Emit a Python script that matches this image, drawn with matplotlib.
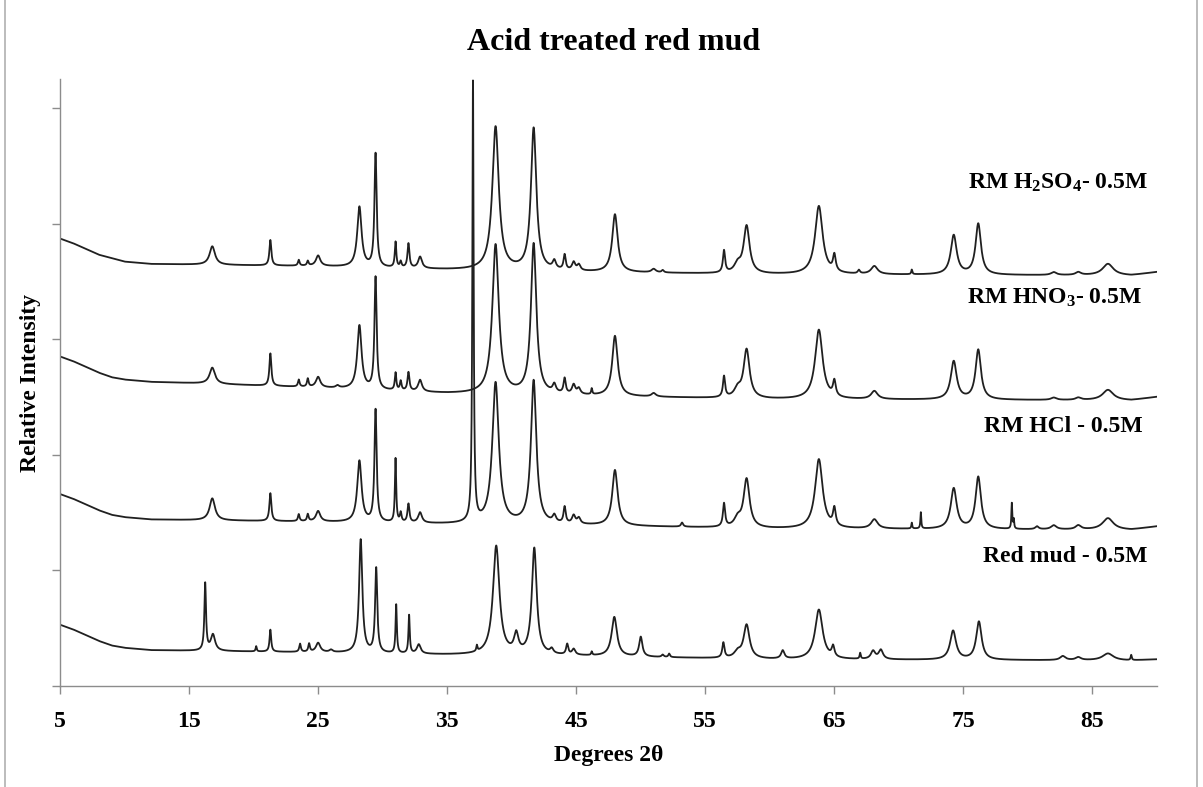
import numpy as np
import matplotlib
matplotlib.use("Agg")
import matplotlib.pyplot as plt

plt.rcParams["font.family"] = ["Liberation Serif", "DejaVu Serif"]
plt.rcParams["font.weight"] = "bold"
plt.rcParams["mathtext.fontset"] = "custom"
plt.rcParams["mathtext.rm"] = "Liberation Serif:bold"
plt.rcParams["mathtext.it"] = "Liberation Serif:bold"
plt.rcParams["mathtext.bf"] = "Liberation Serif:bold"

# series names (top to bottom)
labels = ["RM H$_2$SO$_4$- 0.5M", "RM HNO$_3$- 0.5M", "RM HCl - 0.5M", "Red mud - 0.5M"]

# baseline knots (degrees 2theta, intensity units)
base_x = [5, 6, 7, 8, 9, 10, 11, 12, 15, 25, 35, 45, 60, 88, 90]
base_h2so4 = [3.87, 3.83, 3.78, 3.73, 3.70, 3.67, 3.66, 3.65, 3.645, 3.63, 3.60, 3.58, 3.56, 3.55, 3.58]
base_hno3 = [2.85, 2.81, 2.76, 2.71, 2.67, 2.65, 2.64, 2.63, 2.62, 2.58, 2.53, 2.51, 2.48, 2.47, 2.50]
base_hcl = [1.66, 1.62, 1.57, 1.52, 1.48, 1.46, 1.45, 1.44, 1.435, 1.42, 1.40, 1.39, 1.36, 1.35, 1.38]
base_rm = [0.53, 0.49, 0.44, 0.39, 0.35, 0.33, 0.32, 0.31, 0.305, 0.29, 0.27, 0.26, 0.23, 0.22, 0.23]

# peaks: (position, height, fwhm)
peaks_h2so4 = [
    (16.8, 0.16, 0.5), (21.3, 0.22, 0.18), (23.5, 0.05, 0.15), (24.2, 0.04, 0.15),
    (25.0, 0.09, 0.4), (28.2, 0.52, 0.4), (29.45, 0.98, 0.2), (31.0, 0.22, 0.14),
    (31.4, 0.05, 0.15), (32.0, 0.21, 0.18), (32.9, 0.10, 0.35), (38.75, 1.24, 0.6),
    (41.7, 1.23, 0.5), (43.3, 0.07, 0.3), (44.1, 0.13, 0.2), (44.8, 0.07, 0.3),
    (45.2, 0.05, 0.3), (48.0, 0.50, 0.5), (51.0, 0.03, 0.4), (51.7, 0.02, 0.2),
    (56.45, 0.19, 0.2), (57.5, 0.07, 0.6), (58.2, 0.41, 0.55), (63.8, 0.59, 0.7),
    (65.0, 0.14, 0.25), (66.9, 0.03, 0.2), (68.1, 0.07, 0.6), (71.0, 0.04, 0.1),
    (74.25, 0.34, 0.55), (76.15, 0.44, 0.5), (82.0, 0.025, 0.5), (83.9, 0.025, 0.5),
    (86.2, 0.10, 1.0),
]
peaks_hno3 = [
    (16.8, 0.14, 0.5), (21.3, 0.28, 0.18), (23.5, 0.06, 0.15), (24.2, 0.07, 0.15),
    (25.0, 0.09, 0.4), (26.5, 0.02, 0.3), (28.2, 0.55, 0.4), (29.45, 0.97, 0.2),
    (31.0, 0.15, 0.14), (31.4, 0.08, 0.15), (32.0, 0.16, 0.18), (32.9, 0.10, 0.35),
    (38.75, 1.29, 0.6), (41.7, 1.30, 0.5), (43.3, 0.07, 0.3), (44.1, 0.13, 0.2),
    (44.8, 0.08, 0.3), (45.2, 0.05, 0.3), (46.2, 0.05, 0.1), (48.0, 0.52, 0.5),
    (51.0, 0.03, 0.4), (56.45, 0.18, 0.2), (57.5, 0.07, 0.6), (58.2, 0.42, 0.55),
    (63.8, 0.60, 0.7), (65.0, 0.13, 0.25), (68.1, 0.07, 0.6), (74.25, 0.33, 0.55),
    (76.15, 0.43, 0.5), (82.0, 0.02, 0.5), (83.9, 0.02, 0.5), (86.2, 0.09, 1.0),
]
peaks_hcl = [
    (16.8, 0.19, 0.5), (21.3, 0.24, 0.18), (23.5, 0.06, 0.15), (24.2, 0.06, 0.15),
    (25.0, 0.09, 0.4), (28.2, 0.53, 0.4), (29.45, 0.97, 0.2), (31.0, 0.55, 0.12),
    (31.4, 0.08, 0.15), (32.0, 0.16, 0.18), (32.9, 0.09, 0.35), (37.0, 3.8, 0.12),
    (38.75, 1.22, 0.6), (41.7, 1.24, 0.5), (43.3, 0.06, 0.3), (44.1, 0.14, 0.2),
    (44.8, 0.07, 0.3), (45.2, 0.05, 0.3), (48.0, 0.48, 0.5), (53.2, 0.035, 0.2),
    (56.45, 0.20, 0.2), (57.5, 0.07, 0.6), (58.2, 0.42, 0.55), (63.8, 0.60, 0.7),
    (65.0, 0.15, 0.25), (68.1, 0.08, 0.6), (71.0, 0.05, 0.08), (71.7, 0.14, 0.08),
    (74.25, 0.35, 0.55), (76.15, 0.45, 0.5), (78.75, 0.22, 0.08), (78.9, 0.08, 0.08),
    (80.7, 0.025, 0.3), (82.0, 0.035, 0.5), (83.9, 0.035, 0.5), (86.2, 0.10, 1.0),
]
peaks_rm = [
    (16.25, 0.58, 0.15), (16.85, 0.14, 0.4), (20.2, 0.045, 0.1), (21.3, 0.19, 0.15),
    (23.6, 0.07, 0.15), (24.3, 0.07, 0.15), (25.0, 0.08, 0.4), (26.0, 0.02, 0.3),
    (28.3, 0.98, 0.3), (29.5, 0.73, 0.2), (31.05, 0.42, 0.12), (32.05, 0.33, 0.12),
    (32.8, 0.08, 0.35), (37.3, 0.05, 0.1), (38.8, 0.94, 0.6), (40.35, 0.16, 0.4),
    (41.75, 0.92, 0.45), (43.1, 0.04, 0.3), (44.3, 0.09, 0.2), (44.8, 0.05, 0.3),
    (46.2, 0.03, 0.1), (47.95, 0.34, 0.5), (50.0, 0.17, 0.3), (51.7, 0.02, 0.2),
    (52.2, 0.03, 0.15), (56.4, 0.13, 0.2), (57.5, 0.05, 0.6), (58.2, 0.29, 0.55),
    (61.0, 0.07, 0.3), (63.8, 0.43, 0.7), (64.9, 0.09, 0.25), (67.0, 0.05, 0.1),
    (68.0, 0.07, 0.4), (68.6, 0.08, 0.4), (74.2, 0.25, 0.55), (76.2, 0.33, 0.5),
    (82.7, 0.035, 0.5), (83.9, 0.025, 0.5), (86.2, 0.06, 1.0), (88.0, 0.045, 0.1),
]

two_theta = np.arange(5, 90.0001, 0.01)


# baseline + lorentzian peaks
def pattern(base, peaks):
    y = np.interp(two_theta, base_x, base)
    for pos, h, w in peaks:
        y = y + h / (1 + ((two_theta - pos) / (w / 2)) ** 2)
    return y


curves = [
    pattern(base_h2so4, peaks_h2so4),
    pattern(base_hno3, peaks_hno3),
    pattern(base_hcl, peaks_hcl),
    pattern(base_rm, peaks_rm),
]

fig = plt.figure(figsize=(12.03, 7.87), dpi=100)
ax = fig.add_axes([60 / 1203, 101 / 787, 1097 / 1203, 607 / 787])

for y in curves:
    ax.plot(two_theta, y, color="#202020", lw=1.3)

ax.set_xlim(5, 90)
ax.set_ylim(0, 5.25)
ax.set_xticks(range(5, 90, 10))
ax.set_yticks(range(0, 6))
ax.set_yticklabels([])
for s in ["top", "right"]:
    ax.spines[s].set_visible(False)
for s in ["left", "bottom"]:
    ax.spines[s].set_color("#8c8c8c")
    ax.spines[s].set_linewidth(1.0)
ax.tick_params(axis="both", direction="out", color="#8c8c8c", length=6, width=1.0)
ax.tick_params(axis="x", labelsize=17, pad=12)

ax.set_xlabel("Degrees 2θ", fontsize=17, fontweight="bold", labelpad=9)
ax.set_ylabel("Relative Intensity", fontsize=17, fontweight="bold", labelpad=4)
fig.text(0.51, 1 - 42 / 787, "Acid treated red mud", ha="center", va="center",
         fontsize=23, fontweight="bold")

# series labels
label_y = [183, 298, 427, 557]
label_right = [1148, 1142, 1143, 1147]
for lab, py, px in zip(labels, label_y, label_right):
    fig.text(px / 1203, 1 - py / 787, lab, ha="right", va="center",
             fontsize=17, fontweight="bold")

# light frame of the original figure
fig.add_artist(plt.Line2D([5 / 1203, 5 / 1203], [0, 1], color="#b0b0b0", lw=1.2))
fig.add_artist(plt.Line2D([1197 / 1203, 1197 / 1203], [0, 1], color="#b0b0b0", lw=1.2))

fig.savefig("out.png", dpi=100)
